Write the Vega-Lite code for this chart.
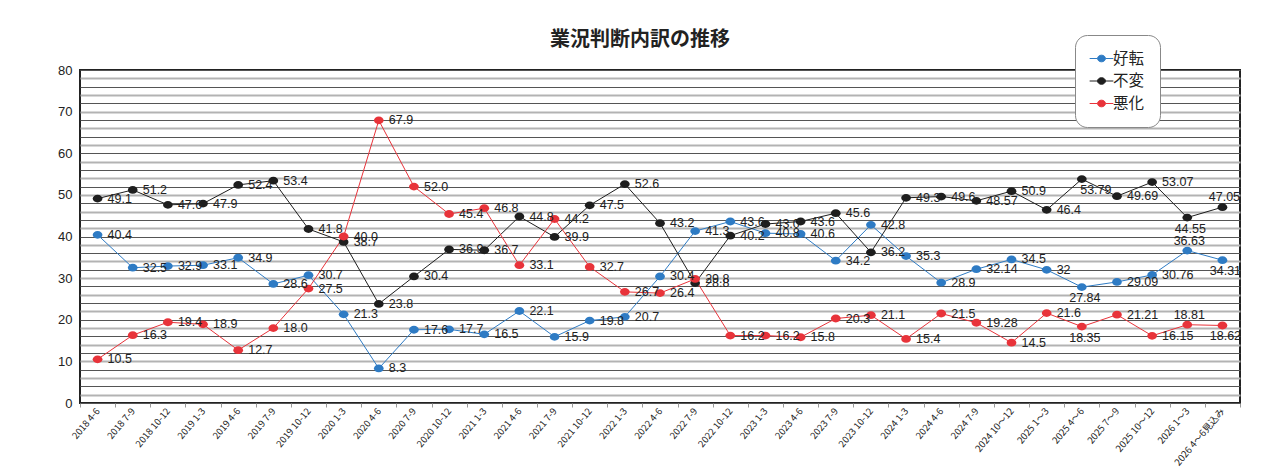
{
  "$schema": "https://vega.github.io/schema/vega-lite/v6.json",
  "autosize": {"type": "none"},
  "width": 1160,
  "height": 333,
  "padding": {"left": 80, "top": 70, "right": 42, "bottom": 65},
  "background": "white",
  "title": {"text": "業況判断内訳の推移", "font": "Noto Sans CJK JP", "fontSize": 20, "fontWeight": "bold", "color": "#222", "anchor": "middle", "dx": -20, "offset": -15},
  "config": {
    "view": {"stroke": "#222", "strokeWidth": 2},
    "font": "Noto Sans CJK JP"
  },
  "data": {"values": [
    {"p":"2018 4-6","s":"好転","v":40.4,"t":"40.4"},{"p":"2018 4-6","s":"不変","v":49.1,"t":"49.1"},{"p":"2018 4-6","s":"悪化","v":10.5,"t":"10.5"},
    {"p":"2018 7-9","s":"好転","v":32.5,"t":"32.5"},{"p":"2018 7-9","s":"不変","v":51.2,"t":"51.2"},{"p":"2018 7-9","s":"悪化","v":16.3,"t":"16.3"},
    {"p":"2018 10-12","s":"好転","v":32.9,"t":"32.9"},{"p":"2018 10-12","s":"不変","v":47.6,"t":"47.6"},{"p":"2018 10-12","s":"悪化","v":19.4,"t":"19.4"},
    {"p":"2019 1-3","s":"好転","v":33.1,"t":"33.1"},{"p":"2019 1-3","s":"不変","v":47.9,"t":"47.9"},{"p":"2019 1-3","s":"悪化","v":18.9,"t":"18.9"},
    {"p":"2019 4-6","s":"好転","v":34.9,"t":"34.9"},{"p":"2019 4-6","s":"不変","v":52.4,"t":"52.4"},{"p":"2019 4-6","s":"悪化","v":12.7,"t":"12.7"},
    {"p":"2019 7-9","s":"好転","v":28.6,"t":"28.6"},{"p":"2019 7-9","s":"不変","v":53.4,"t":"53.4"},{"p":"2019 7-9","s":"悪化","v":18.0,"t":"18.0"},
    {"p":"2019 10-12","s":"好転","v":30.7,"t":"30.7"},{"p":"2019 10-12","s":"不変","v":41.8,"t":"41.8"},{"p":"2019 10-12","s":"悪化","v":27.5,"t":"27.5"},
    {"p":"2020 1-3","s":"好転","v":21.3,"t":"21.3"},{"p":"2020 1-3","s":"不変","v":38.7,"t":"38.7"},{"p":"2020 1-3","s":"悪化","v":40.0,"t":"40.0"},
    {"p":"2020 4-6","s":"好転","v":8.3,"t":"8.3"},{"p":"2020 4-6","s":"不変","v":23.8,"t":"23.8"},{"p":"2020 4-6","s":"悪化","v":67.9,"t":"67.9"},
    {"p":"2020 7-9","s":"好転","v":17.6,"t":"17.6"},{"p":"2020 7-9","s":"不変","v":30.4,"t":"30.4"},{"p":"2020 7-9","s":"悪化","v":52.0,"t":"52.0"},
    {"p":"2020 10-12","s":"好転","v":17.7,"t":"17.7"},{"p":"2020 10-12","s":"不変","v":36.9,"t":"36.9"},{"p":"2020 10-12","s":"悪化","v":45.4,"t":"45.4"},
    {"p":"2021 1-3","s":"好転","v":16.5,"t":"16.5"},{"p":"2021 1-3","s":"不変","v":36.7,"t":"36.7"},{"p":"2021 1-3","s":"悪化","v":46.8,"t":"46.8"},
    {"p":"2021 4-6","s":"好転","v":22.1,"t":"22.1"},{"p":"2021 4-6","s":"不変","v":44.8,"t":"44.8"},{"p":"2021 4-6","s":"悪化","v":33.1,"t":"33.1"},
    {"p":"2021 7-9","s":"好転","v":15.9,"t":"15.9"},{"p":"2021 7-9","s":"不変","v":39.9,"t":"39.9"},{"p":"2021 7-9","s":"悪化","v":44.2,"t":"44.2"},
    {"p":"2021 10-12","s":"好転","v":19.8,"t":"19.8"},{"p":"2021 10-12","s":"不変","v":47.5,"t":"47.5"},{"p":"2021 10-12","s":"悪化","v":32.7,"t":"32.7"},
    {"p":"2022 1-3","s":"好転","v":20.7,"t":"20.7"},{"p":"2022 1-3","s":"不変","v":52.6,"t":"52.6"},{"p":"2022 1-3","s":"悪化","v":26.7,"t":"26.7"},
    {"p":"2022 4-6","s":"好転","v":30.4,"t":"30.4"},{"p":"2022 4-6","s":"不変","v":43.2,"t":"43.2"},{"p":"2022 4-6","s":"悪化","v":26.4,"t":"26.4"},
    {"p":"2022 7-9","s":"好転","v":41.3,"t":"41.3"},{"p":"2022 7-9","s":"不変","v":28.8,"t":"28.8"},{"p":"2022 7-9","s":"悪化","v":29.8,"t":"29.8"},
    {"p":"2022 10-12","s":"好転","v":43.6,"t":"43.6"},{"p":"2022 10-12","s":"不変","v":40.2,"t":"40.2"},{"p":"2022 10-12","s":"悪化","v":16.2,"t":"16.2"},
    {"p":"2023 1-3","s":"好転","v":40.8,"t":"40.8"},{"p":"2023 1-3","s":"不変","v":43.0,"t":"43.0"},{"p":"2023 1-3","s":"悪化","v":16.2,"t":"16.2"},
    {"p":"2023 4-6","s":"好転","v":40.6,"t":"40.6"},{"p":"2023 4-6","s":"不変","v":43.6,"t":"43.6"},{"p":"2023 4-6","s":"悪化","v":15.8,"t":"15.8"},
    {"p":"2023 7-9","s":"好転","v":34.2,"t":"34.2"},{"p":"2023 7-9","s":"不変","v":45.6,"t":"45.6"},{"p":"2023 7-9","s":"悪化","v":20.3,"t":"20.3"},
    {"p":"2023 10-12","s":"好転","v":42.8,"t":"42.8"},{"p":"2023 10-12","s":"不変","v":36.2,"t":"36.2"},{"p":"2023 10-12","s":"悪化","v":21.1,"t":"21.1"},
    {"p":"2024 1-3","s":"好転","v":35.3,"t":"35.3"},{"p":"2024 1-3","s":"不変","v":49.3,"t":"49.3"},{"p":"2024 1-3","s":"悪化","v":15.4,"t":"15.4"},
    {"p":"2024 4-6","s":"好転","v":28.9,"t":"28.9"},{"p":"2024 4-6","s":"不変","v":49.6,"t":"49.6"},{"p":"2024 4-6","s":"悪化","v":21.5,"t":"21.5"},
    {"p":"2024 7-9","s":"好転","v":32.14,"t":"32.14"},{"p":"2024 7-9","s":"不変","v":48.57,"t":"48.57"},{"p":"2024 7-9","s":"悪化","v":19.28,"t":"19.28"},
    {"p":"2024 10～12","s":"好転","v":34.5,"t":"34.5"},{"p":"2024 10～12","s":"不変","v":50.9,"t":"50.9"},{"p":"2024 10～12","s":"悪化","v":14.5,"t":"14.5"},
    {"p":"2025 1～3","s":"好転","v":32,"t":"32"},{"p":"2025 1～3","s":"不変","v":46.4,"t":"46.4"},{"p":"2025 1～3","s":"悪化","v":21.6,"t":"21.6"},
    {"p":"2025 4～6","s":"好転","v":27.84,"t":"27.84"},{"p":"2025 4～6","s":"不変","v":53.79,"t":"53.79"},{"p":"2025 4～6","s":"悪化","v":18.35,"t":"18.35"},
    {"p":"2025 7～9","s":"好転","v":29.09,"t":"29.09"},{"p":"2025 7～9","s":"不変","v":49.69,"t":"49.69"},{"p":"2025 7～9","s":"悪化","v":21.21,"t":"21.21"},
    {"p":"2025 10～12","s":"好転","v":30.76,"t":"30.76"},{"p":"2025 10～12","s":"不変","v":53.07,"t":"53.07"},{"p":"2025 10～12","s":"悪化","v":16.15,"t":"16.15"},
    {"p":"2026 1～3","s":"好転","v":36.63,"t":"36.63"},{"p":"2026 1～3","s":"不変","v":44.55,"t":"44.55"},{"p":"2026 1～3","s":"悪化","v":18.81,"t":"18.81"},
    {"p":"2026 4～6見込み","s":"好転","v":34.31,"t":"34.31"},{"p":"2026 4～6見込み","s":"不変","v":47.05,"t":"47.05"},{"p":"2026 4～6見込み","s":"悪化","v":18.62,"t":"18.62"}
  ]},
  "encoding": {
    "x": {"field": "p", "type": "nominal", "sort": null,
      "scale": {"type": "band", "paddingInner": 0, "paddingOuter": 0},
      "axis": {"title": null, "labelAngle": -50, "labelFontSize": 9.5, "labelColor": "#222", "labelFont": "Noto Sans CJK JP",
        "tickBand": "extent", "tickColor": "#999", "tickSize": 4, "domain": false, "labelPadding": 2, "grid": false}},
    "y": {"field": "v", "type": "quantitative",
      "scale": {"domain": [0, 80], "nice": false},
      "axis": {"title": null, "values": [0,2,4,6,8,10,12,14,16,18,20,22,24,26,28,30,32,34,36,38,40,42,44,46,48,50,52,54,56,58,60,62,64,66,68,70,72,74,76,78,80],
        "labelExpr": "datum.value % 10 == 0 ? datum.label : ''", "labelFontSize": 13, "labelColor": "#222", "labelFont": "Liberation Sans",
        "ticks": false, "domain": false, "labelPadding": 8,
        "gridColor": {"condition": {"test": "datum.value % 4 == 0", "value": "#555"}, "value": "#b3b3b3"},
        "gridWidth": {"condition": {"test": "datum.value % 4 == 0", "value": 1}, "value": 2}}},
    "color": {"field": "s", "type": "nominal",
      "scale": {"domain": ["好転", "不変", "悪化"], "range": ["#2e7bc4", "#1e1e1e", "#e8333a"]},
      "legend": {"title": null, "orient": "none", "legendX": 995, "legendY": -35,
        "symbolType": "M-1.5,0L-0.5,0M0.5,0L1.5,0M-0.5,0A0.5,0.42,0,1,1,0.5,0A0.5,0.42,0,1,1,-0.5,0Z",
        "symbolSize": 250, "symbolStrokeWidth": 1, "symbolOffset": 3, "labelFontSize": 15.5, "labelFont": "Noto Sans CJK JP", "labelColor": "#222",
        "rowPadding": 5.5, "labelOffset": 3, "padding": 15, "strokeColor": "#888", "fillColor": "white", "cornerRadius": 12,
        "encode": {"symbols": {"update": {"stroke": {"scale": "color", "field": "value"}, "fill": {"scale": "color", "field": "value"}}}}}}
  },
  "layer": [
    {"mark": {"type": "line", "strokeWidth": 1}},
    {"mark": {"type": "point", "filled": true, "opacity": 1, "size": 95, "shape": "M-1,0A1,0.8,0,1,1,1,0A1,0.8,0,1,1,-1,0Z"}},
    {"transform": [{"filter": "indexof(['不変|2026 1～3','好転|2025 4～6','好転|2026 4～6見込み','悪化|2025 4～6','悪化|2026 4～6見込み','不変|2025 4～6','不変|2026 4～6見込み','好転|2026 1～3','悪化|2026 1～3'], datum.s + '|' + datum.p) < 0"}],
     "mark": {"type": "text", "align": "left", "dx": 10, "baseline": "middle", "fontSize": 12.5, "font": "Liberation Sans", "color": "#222"},
     "encoding": {"text": {"field": "t"}, "color": {"value": "#222"}}},
    {"transform": [{"filter": "indexof(['不変|2026 1～3','好転|2025 4～6','好転|2026 4～6見込み','悪化|2025 4～6','悪化|2026 4～6見込み'], datum.s + '|' + datum.p) >= 0"}],
     "mark": {"type": "text", "align": "center", "dx": 3, "dy": 11, "baseline": "middle", "fontSize": 12.5, "font": "Liberation Sans", "color": "#222"},
     "encoding": {"text": {"field": "t"}, "color": {"value": "#222"}}},
    {"transform": [{"filter": "indexof(['不変|2025 4～6'], datum.s + '|' + datum.p) >= 0"}],
     "mark": {"type": "text", "align": "center", "dx": 14, "dy": 11, "baseline": "middle", "fontSize": 12.5, "font": "Liberation Sans", "color": "#222"},
     "encoding": {"text": {"field": "t"}, "color": {"value": "#222"}}},
    {"transform": [{"filter": "indexof(['不変|2026 4～6見込み','好転|2026 1～3','悪化|2026 1～3'], datum.s + '|' + datum.p) >= 0"}],
     "mark": {"type": "text", "align": "center", "dx": 2, "dy": -10, "baseline": "middle", "fontSize": 12.5, "font": "Liberation Sans", "color": "#222"},
     "encoding": {"text": {"field": "t"}, "color": {"value": "#222"}}}
  ]
}
